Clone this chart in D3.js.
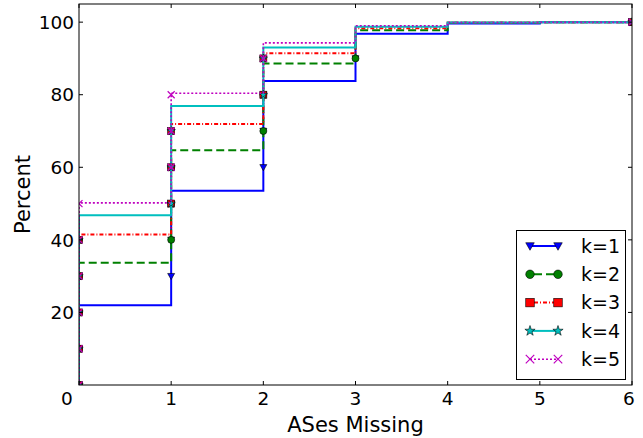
<!DOCTYPE html>
<html><head><meta charset="utf-8">
<script src="https://cdn.jsdelivr.net/npm/d3@7"></script>
<style>
html,body{margin:0;padding:0;background:#fff;}
text{font-family:"DejaVu Sans",sans-serif;}
</style></head>
<body><svg id="chart" width="643" height="438"></svg>
<script>
// ---- data ----
const xValues = [0, 1, 2, 3, 4, 5, 6];
const seriesNames = ["k=1", "k=2", "k=3", "k=4", "k=5"];
const k1 = [22.0, 53.5, 83.8, 96.8, 99.6, 99.98, 100];
const k2 = [33.7, 64.7, 88.6, 97.8, 99.8, 99.98, 100];
const k3 = [41.5, 71.9, 91.4, 98.3, 99.9, 99.98, 100];
const k4 = [46.8, 76.9, 93.0, 98.7, 99.9, 99.98, 100];
const k5 = [50.2, 80.4, 94.3, 99.0, 99.9, 99.98, 100];
const markerLevels = [0, 10, 20, 30, 40, 50, 60, 70, 80, 90, 100];
const xTicks = [0, 1, 2, 3, 4, 5, 6];
const yTicks = [20, 40, 60, 80, 100];

const seriesValues = [k1, k2, k3, k4, k5];
const styles = [
  {color:"#0000ff", dash:null, width:2, marker:"triD"},
  {color:"#008000", dash:"8,4", width:2, marker:"circle"},
  {color:"#ff0000", dash:"4,2,1,2", width:2, marker:"square"},
  {color:"#00bfbf", dash:null, width:2, marker:"star"},
  {color:"#bf00bf", dash:"2,2", width:1.6, marker:"x"}
];

const svg = d3.select("#chart");
const L = 79, R = 632, T = 4, B = 385;
const x = d3.scaleLinear().domain([0, 6]).range([L, R]);
const y = d3.scaleLinear().domain([0, 105]).range([B, T]);

svg.append("defs").append("clipPath").attr("id","clip")
  .append("rect").attr("x",L).attr("y",T).attr("width",R-L).attr("height",B-T);

const plot = svg.append("g").attr("clip-path","url(#clip)");

function drawMarker(g, type, cx, cy, s, color){
  if(type==="triD"){
    g.append("path").attr("d",`M${cx-s/2},${cy-s/2.6}L${cx+s/2},${cy-s/2.6}L${cx},${cy+s/2}Z`)
      .attr("fill",color).attr("stroke","#000").attr("stroke-width",0.6);
  } else if(type==="circle"){
    g.append("circle").attr("cx",cx).attr("cy",cy).attr("r",s/2)
      .attr("fill",color).attr("stroke","#000").attr("stroke-width",0.6);
  } else if(type==="square"){
    g.append("rect").attr("x",cx-s/2).attr("y",cy-s/2).attr("width",s).attr("height",s)
      .attr("fill",color).attr("stroke","#000").attr("stroke-width",0.6);
  } else if(type==="star"){
    const sym = d3.symbol().type(d3.symbolStar).size(s*s*0.45);
    g.append("path").attr("d",sym()).attr("transform",`translate(${cx},${cy})`)
      .attr("fill",color).attr("stroke","#000").attr("stroke-width",0.6);
  } else if(type==="x"){
    const h = s/2;
    g.append("path").attr("d",`M${cx-h},${cy-h}L${cx+h},${cy+h}M${cx-h},${cy+h}L${cx+h},${cy-h}`)
      .attr("fill","none").attr("stroke",color).attr("stroke-width",1.2);
  }
}

const line = d3.line().x(d=>x(d[0])).y(d=>y(d[1])).curve(d3.curveStepAfter);

seriesValues.forEach((vals, i)=>{
  const st = styles[i];
  const pts = [[xValues[0], 0]].concat(xValues.map((xv,j)=>[xv, vals[j]]));
  const p = plot.append("path").attr("d", line(pts))
    .attr("fill","none").attr("stroke", st.color).attr("stroke-width", st.width);
  if(st.dash) p.attr("stroke-dasharray", st.dash);
  const mg = plot.append("g");
  markerLevels.forEach(lv=>{
    let idx = vals.findIndex(v=>v>=lv);
    if(idx<0) idx = xValues.length-1;
    drawMarker(mg, st.marker, x(xValues[idx]), y(lv), 7, st.color);
  });
});

// axes frame
svg.append("rect").attr("x",L).attr("y",T).attr("width",R-L).attr("height",B-T)
  .attr("fill","none").attr("stroke","#000").attr("stroke-width",1);

// ticks inward
const tl = 4;
xTicks.forEach(t=>{
  const px = x(t);
  svg.append("line").attr("x1",px).attr("x2",px).attr("y1",B).attr("y2",B-tl).attr("stroke","#000");
  svg.append("line").attr("x1",px).attr("x2",px).attr("y1",T).attr("y2",T+tl).attr("stroke","#000");
  svg.append("text").attr("x", t===0 ? px-12 : (t===6 ? px-3 : px)).attr("y", 405)
    .attr("text-anchor","middle").attr("font-size",18.5).text(t);
});
yTicks.forEach(t=>{
  const py = y(t);
  svg.append("line").attr("x1",L).attr("x2",L+tl).attr("y1",py).attr("y2",py).attr("stroke","#000");
  svg.append("line").attr("x1",R).attr("x2",R-tl).attr("y1",py).attr("y2",py).attr("stroke","#000");
  svg.append("text").attr("x", L-5).attr("y", py).attr("dy","0.36em")
    .attr("text-anchor","end").attr("font-size",18.5).text(t);
});

// axis labels
svg.append("text").attr("x",(L+R)/2).attr("y",432).attr("text-anchor","middle")
  .attr("font-size",21).text("ASes Missing");
svg.append("text").attr("transform",`translate(30,${(T+B)/2}) rotate(-90)`)
  .attr("text-anchor","middle").attr("font-size",21).text("Percent");

// legend
const lg = svg.append("g");
lg.append("rect").attr("x",516.5).attr("y",230.5).attr("width",109).attr("height",149)
  .attr("fill","#fff").attr("stroke","#000").attr("stroke-width",1);
seriesNames.forEach((nm,i)=>{
  const st = styles[i];
  const cy = 246 + i*28.3;
  const l = lg.append("line").attr("x1",530).attr("x2",558).attr("y1",cy).attr("y2",cy)
    .attr("stroke",st.color).attr("stroke-width",st.width);
  if(st.dash) l.attr("stroke-dasharray", st.dash).attr("stroke-dashoffset", -4);
  drawMarker(lg, st.marker, 530, cy, 8.5, st.color);
  drawMarker(lg, st.marker, 558, cy, 8.5, st.color);
  lg.append("text").attr("x",581).attr("y",cy).attr("dy","0.36em")
    .attr("font-size",19).text(nm);
});
</script>
</body></html>
